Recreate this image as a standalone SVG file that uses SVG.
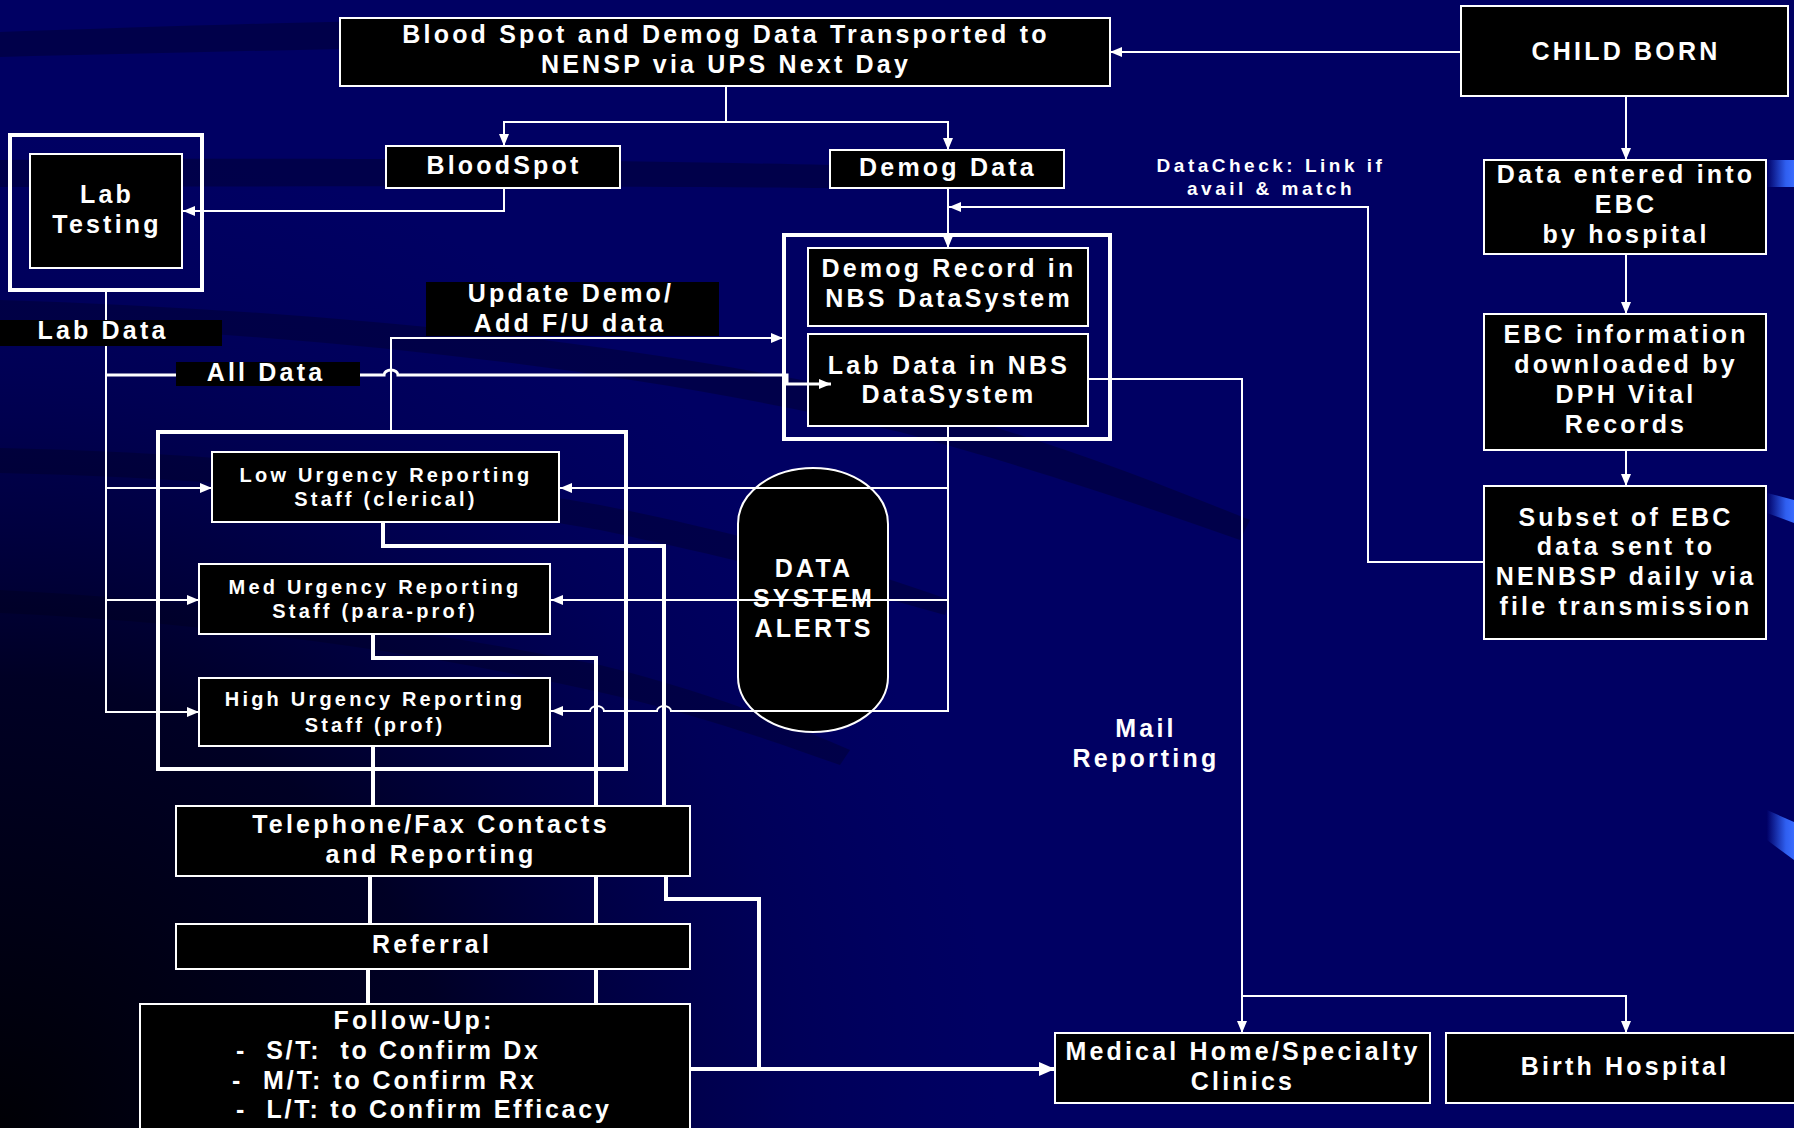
<svg xmlns="http://www.w3.org/2000/svg" width="1794" height="1128" viewBox="0 0 1794 1128">
<defs>
<style>
.box{fill:#000;stroke:#fff;stroke-width:2}
.outer{fill:none;stroke:#fff;stroke-width:4}
.t{font-family:"Liberation Sans",Arial,sans-serif;font-weight:bold;fill:#fff;text-anchor:middle}
.l{font-size:25px;letter-spacing:3.2px}
.s{font-size:20px;letter-spacing:3.2px}
.xs{font-size:19px;letter-spacing:3.5px}
.c{fill:none;stroke:#fff;stroke-width:2}
.c3{fill:none;stroke:#fff;stroke-width:3}
.c4{fill:none;stroke:#fff;stroke-width:4}
.lbl{fill:#000}
.band{fill:#00003a;opacity:0.6}
</style>
<marker id="ah" viewBox="0 0 12 10" refX="12" refY="5" markerWidth="12" markerHeight="10" markerUnits="userSpaceOnUse" orient="auto"><path d="M0,0 L12,5 L0,10 z" fill="#fff"/></marker>
<marker id="ahb" viewBox="0 0 16 14" refX="16" refY="7" markerWidth="16" markerHeight="14" markerUnits="userSpaceOnUse" orient="auto"><path d="M0,0 L16,7 L0,14 z" fill="#fff"/></marker>
<radialGradient id="dark" cx="0" cy="1128" r="1000" gradientUnits="userSpaceOnUse">
<stop offset="0" stop-color="#000000" stop-opacity="0.95"/>
<stop offset="0.45" stop-color="#000010" stop-opacity="0.75"/>
<stop offset="0.8" stop-color="#000030" stop-opacity="0.2"/>
<stop offset="1" stop-color="#000040" stop-opacity="0"/>
</radialGradient>
<linearGradient id="streak" x1="0" y1="0" x2="1" y2="0">
<stop offset="0" stop-color="#000066"/>
<stop offset="0.7" stop-color="#2f5ff0"/>
<stop offset="1" stop-color="#3a6cff"/>
</linearGradient>
</defs>

<g id="background">
<rect width="1794" height="1128" fill="#000063"/>
<path class="band" d="M0,32 C150,27 300,22 420,20 L420,47 C300,50 150,53 0,57 Z"/>
<path class="band" d="M0,160 C300,157 600,160 830,165 L830,188 C600,186 300,186 0,187 Z"/>
<path class="band" d="M0,300 C300,310 600,335 900,400 C1050,440 1150,480 1250,520 L1240,540 C1140,505 1040,470 900,432 C600,362 300,335 0,322 Z"/>
<path class="band" d="M0,448 C200,452 400,470 600,505 C750,535 850,565 950,600 L945,615 C840,585 740,560 600,530 C400,495 200,477 0,473 Z"/>
<path class="band" d="M0,590 C200,600 400,625 600,665 C700,690 780,720 850,750 L840,765 C770,740 690,712 590,690 C400,648 200,622 0,613 Z"/>
<rect width="1794" height="1128" fill="url(#dark)"/>
<path d="M1767,160 L1794,160 L1794,187 L1767,187 Z" fill="url(#streak)"/>
<path d="M1767,493 L1794,500 L1794,523 L1767,513 Z" fill="url(#streak)"/>
<path d="M1767,810 L1794,822 L1794,860 L1767,840 Z" fill="url(#streak)"/>
</g>

<g id="transport">
<rect class="box" x="340" y="18" width="770" height="68"/>
<text class="t l" x="726" y="43">Blood Spot and Demog Data Transported to</text>
<text class="t l" x="726" y="73">NENSP via UPS Next Day</text>
</g>
<g id="child-born">
<rect class="box" x="1461" y="6" width="327" height="90"/>
<text class="t l" x="1626" y="60">CHILD BORN</text>
</g>
<g id="bloodspot">
<rect class="box" x="386" y="146" width="234" height="42"/>
<text class="t l" x="504" y="174">BloodSpot</text>
</g>
<g id="demog-data">
<rect class="box" x="830" y="150" width="234" height="38"/>
<text class="t l" x="948" y="176">Demog Data</text>
</g>
<g id="lab-testing">
<rect class="outer" x="10" y="135" width="192" height="155"/>
<rect class="box" x="30" y="154" width="152" height="114"/>
<text class="t l" x="107" y="203">Lab</text>
<text class="t l" x="107" y="233">Testing</text>
</g>
<g id="nbs-datasystem">
<rect class="outer" x="784" y="235" width="326" height="204"/>
<g id="demog-record">
<rect class="box" x="808" y="248" width="280" height="78"/>
<text class="t l" x="949" y="277">Demog Record in</text>
<text class="t l" x="949" y="307">NBS DataSystem</text>
</g>
<g id="lab-data-nbs">
<rect class="box" x="808" y="334" width="280" height="92"/>
<text class="t l" x="949" y="374">Lab Data in NBS</text>
<text class="t l" x="949" y="403">DataSystem</text>
</g>
</g>
<g id="data-entered">
<rect class="box" x="1484" y="160" width="282" height="94"/>
<text class="t l" x="1626" y="183">Data entered into</text>
<text class="t l" x="1626" y="213">EBC</text>
<text class="t l" x="1626" y="243">by hospital</text>
</g>
<g id="ebc-info">
<rect class="box" x="1484" y="314" width="282" height="136"/>
<text class="t l" x="1626" y="343">EBC information</text>
<text class="t l" x="1626" y="373">downloaded by</text>
<text class="t l" x="1626" y="403">DPH Vital</text>
<text class="t l" x="1626" y="433">Records</text>
</g>
<g id="subset-ebc">
<rect class="box" x="1484" y="486" width="282" height="153"/>
<text class="t l" x="1626" y="526">Subset of EBC</text>
<text class="t l" x="1626" y="555">data sent to</text>
<text class="t l" x="1626" y="585">NENBSP daily via</text>
<text class="t l" x="1626" y="615">file transmission</text>
</g>
<g id="reporting-staff">
<rect class="outer" x="158" y="432" width="468" height="337"/>
<g id="low-urgency">
<rect class="box" x="212" y="452" width="347" height="70"/>
<text class="t s" x="386" y="482">Low Urgency Reporting</text>
<text class="t s" x="386" y="506">Staff (clerical)</text>
</g>
<g id="med-urgency">
<rect class="box" x="199" y="564" width="351" height="70"/>
<text class="t s" x="375" y="594">Med Urgency Reporting</text>
<text class="t s" x="375" y="618">Staff (para-prof)</text>
</g>
<g id="high-urgency">
<rect class="box" x="199" y="678" width="351" height="68"/>
<text class="t s" x="375" y="706">High Urgency Reporting</text>
<text class="t s" x="375" y="732">Staff (prof)</text>
</g>
</g>
<g id="data-system-alerts">
<path d="M738,524 A75,56 0 0 1 888,524 V677 A75,55 0 0 1 738,677 Z" fill="#000" stroke="#fff" stroke-width="2"/>
<text class="t l" x="814" y="577">DATA</text>
<text class="t l" x="814" y="607">SYSTEM</text>
<text class="t l" x="814" y="637">ALERTS</text>
</g>
<g id="telephone-fax">
<rect class="box" x="176" y="806" width="514" height="70"/>
<text class="t l" x="431" y="833">Telephone/Fax Contacts</text>
<text class="t l" x="431" y="863">and Reporting</text>
</g>
<g id="referral">
<rect class="box" x="176" y="924" width="514" height="45"/>
<text class="t l" x="432" y="953">Referral</text>
</g>
<g id="follow-up">
<rect class="box" x="140" y="1004" width="550" height="140"/>
<text class="t l" x="414" y="1029">Follow-Up:</text>
<text class="t l" x="236" y="1059" style="text-anchor:start" xml:space="preserve" textLength="305" lengthAdjust="spacing">-  S/T:  to Confirm Dx</text>
<text class="t l" x="232" y="1089" style="text-anchor:start" xml:space="preserve" textLength="305" lengthAdjust="spacing">-  M/T: to Confirm Rx</text>
<text class="t l" x="236" y="1118" style="text-anchor:start" xml:space="preserve" textLength="376" lengthAdjust="spacing">-  L/T: to Confirm Efficacy</text>
</g>
<g id="medical-home">
<rect class="box" x="1055" y="1033" width="375" height="70"/>
<text class="t l" x="1243" y="1060">Medical Home/Specialty</text>
<text class="t l" x="1243" y="1090">Clinics</text>
</g>
<g id="birth-hospital">
<rect class="box" x="1446" y="1033" width="352" height="70"/>
<text class="t l" x="1625" y="1075">Birth Hospital</text>
</g>

<g id="connectors">
<path class="c" d="M1461,52 H1110" marker-end="url(#ah)"/>
<path class="c" d="M726,86 V122 H504 V146" marker-end="url(#ah)"/>
<path class="c" d="M726,122 H948 V150" marker-end="url(#ah)"/>
<path class="c" d="M504,188 V211 H183" marker-end="url(#ah)"/>
<path class="c" d="M948,188 V248" marker-end="url(#ah)"/>
<path class="c" d="M1484,562 H1368 V207 H949" marker-end="url(#ah)"/>
<path class="c" d="M1626,96 V160" marker-end="url(#ah)"/>
<path class="c" d="M1626,254 V314" marker-end="url(#ah)"/>
<path class="c" d="M1626,450 V486" marker-end="url(#ah)"/>
<path class="c" d="M106,291 V712 H199" marker-end="url(#ah)"/>
<path class="c" d="M106,488 H212" marker-end="url(#ah)"/>
<path class="c" d="M106,600 H199" marker-end="url(#ah)"/>
<path class="c3" d="M106,375 H384 a7,5 0 0 1 14,0 H787 V384 H831" marker-end="url(#ah)"/>
<path class="c" d="M391,432 V338 H783" marker-end="url(#ah)"/>
<path class="c" d="M948,426 V711 H671 a7,5 0 0 0 -14,0 H604 a7,5 0 0 0 -14,0 H551" marker-end="url(#ah)"/>
<path class="c" d="M948,488 H560" marker-end="url(#ah)"/>
<path class="c" d="M948,600 H551" marker-end="url(#ah)"/>
<path class="c" d="M1088,379 H1242 V1033" marker-end="url(#ah)"/>
<path class="c" d="M1242,996 H1626 V1033" marker-end="url(#ah)"/>
<path class="c4" d="M383,522 V546 H664 V806"/>
<path class="c4" d="M373,634 V658 H596 V806"/>
<path class="c4" d="M373,746 V806"/>
<path class="c4" d="M370,876 V924"/>
<path class="c4" d="M596,876 V924"/>
<path class="c4" d="M368,969 V1004"/>
<path class="c4" d="M596,969 V1004"/>
<path class="c4" d="M666,876 V899 H759 V1069"/>
<path class="c4" d="M690,1069 H1055" marker-end="url(#ahb)"/>
</g>

<g id="lab-data-label">
<rect class="lbl" x="0" y="320" width="222" height="26"/>
<text class="t l" x="103" y="339">Lab Data</text>
</g>
<g id="all-data-label">
<rect class="lbl" x="176" y="362" width="184" height="24"/>
<text class="t l" x="266" y="381">All Data</text>
</g>
<g id="update-label">
<rect class="lbl" x="426" y="282" width="293" height="54"/>
<text class="t l" x="571" y="302">Update Demo/</text>
<text class="t l" x="570" y="332">Add F/U data</text>
</g>
<g id="datacheck-label">
<text class="t xs" x="1271" y="172">DataCheck: Link if</text>
<text class="t xs" x="1271" y="195">avail &amp; match</text>
</g>
<g id="mail-label">
<text class="t l" x="1146" y="737">Mail</text>
<text class="t l" x="1146" y="767">Reporting</text>
</g>
</svg>
